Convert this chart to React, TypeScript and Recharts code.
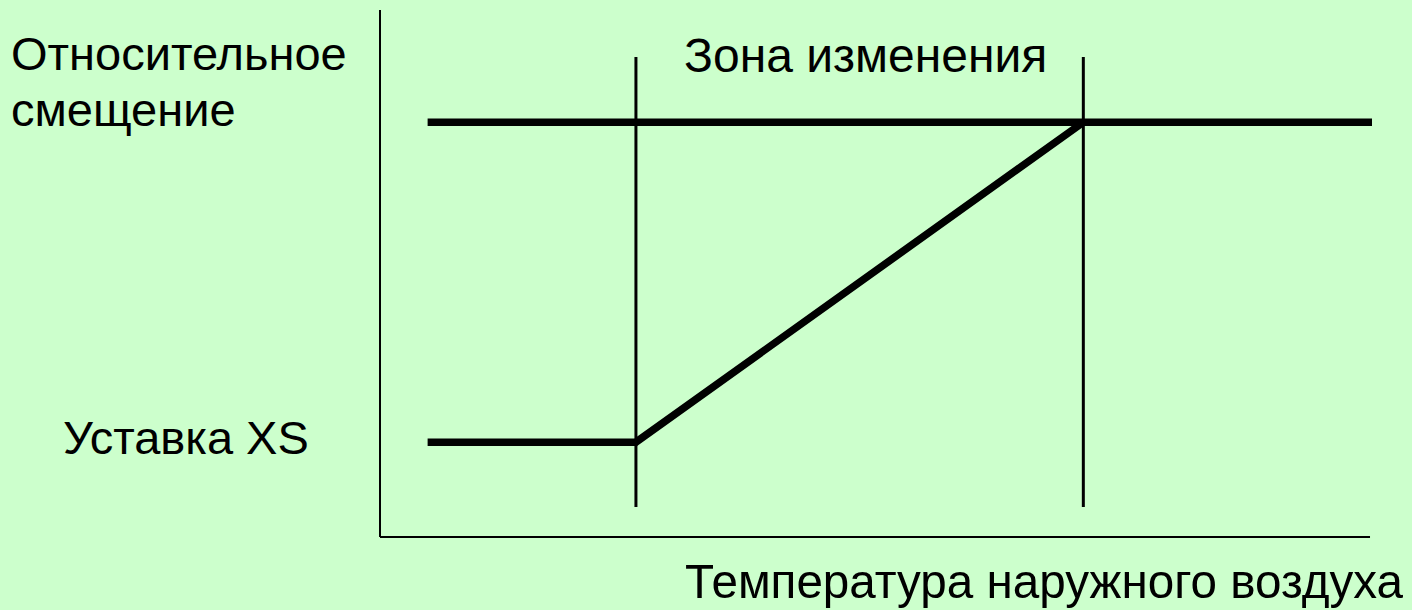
import { ComposedChart, Line, ReferenceLine, XAxis, YAxis } from "recharts";

// schematic values (x: 0..100 along temperature, y: 0..100 relative offset)
const setpointCurve = [
  { x: 4.8, y: 18 },
  { x: 25.8, y: 18 },
  { x: 70.9, y: 78.7 },
];
const maxOffsetLine = [
  { x: 4.8, y: 78.7 },
  { x: 100, y: 78.7 },
];
const zoneBounds = [25.8, 70.9];
const zoneSpan = [5.7, 91.1];
const axisEnd = { x: 99.8, y: 100 };

const labels = {
  yTitle: ["Относительное", "смещение"],
  zone: "Зона изменения",
  setpoint: "Уставка XS",
  xTitle: "Температура наружного воздуха",
};

const W = 1412;
const H = 610;
const font = '"Liberation Sans", Arial, sans-serif';

export default function App() {
  return (
    <div
      style={{
        position: "absolute",
        left: 0,
        top: 0,
        width: W,
        height: H,
        background: "#CCFFCC",
      }}
    >
      <ComposedChart
        width={W}
        height={H}
        margin={{ top: 10, right: 40, bottom: 73, left: 380 }}
      >
        <XAxis type="number" dataKey="x" domain={[0, 100]} hide allowDataOverflow />
        <YAxis type="number" domain={[0, 100]} hide allowDataOverflow />

        {/* оси */}
        <ReferenceLine
          segment={[{ x: 0, y: 0 }, { x: 0, y: axisEnd.y }]}
          stroke="#000"
          strokeWidth={2}
        />
        <ReferenceLine
          segment={[{ x: 0, y: 0 }, { x: axisEnd.x, y: 0 }]}
          stroke="#000"
          strokeWidth={2}
        />

        {/* границы зоны изменения */}
        {zoneBounds.map((b) => (
          <ReferenceLine
            key={b}
            segment={[{ x: b, y: zoneSpan[0] }, { x: b, y: zoneSpan[1] }]}
            stroke="#000"
            strokeWidth={3}
          />
        ))}

        <Line
          data={maxOffsetLine}
          dataKey="y"
          type="linear"
          stroke="#000"
          strokeWidth={7.5}
          dot={false}
          activeDot={false}
          isAnimationActive={false}
        />
        <Line
          data={setpointCurve}
          dataKey="y"
          type="linear"
          stroke="#000"
          strokeWidth={7.5}
          strokeLinejoin="miter"
          dot={false}
          activeDot={false}
          isAnimationActive={false}
        />
      </ComposedChart>

      <svg
        width={W}
        height={H}
        style={{ position: "absolute", left: 0, top: 0, pointerEvents: "none" }}
        fontFamily={font}
        fill="#000"
      >
        <text x={11} y={70} fontSize={47}>{labels.yTitle[0]}</text>
        <text x={11} y={126} fontSize={47}>{labels.yTitle[1]}</text>
        <text x={684} y={72} fontSize={48}>{labels.zone}</text>
        <text x={63} y={454} fontSize={47}>{labels.setpoint}</text>
        <text
          x={685}
          y={598}
          fontSize={49}
          textLength={718}
          lengthAdjust="spacingAndGlyphs"
        >
          {labels.xTitle}
        </text>
      </svg>
    </div>
  );
}
